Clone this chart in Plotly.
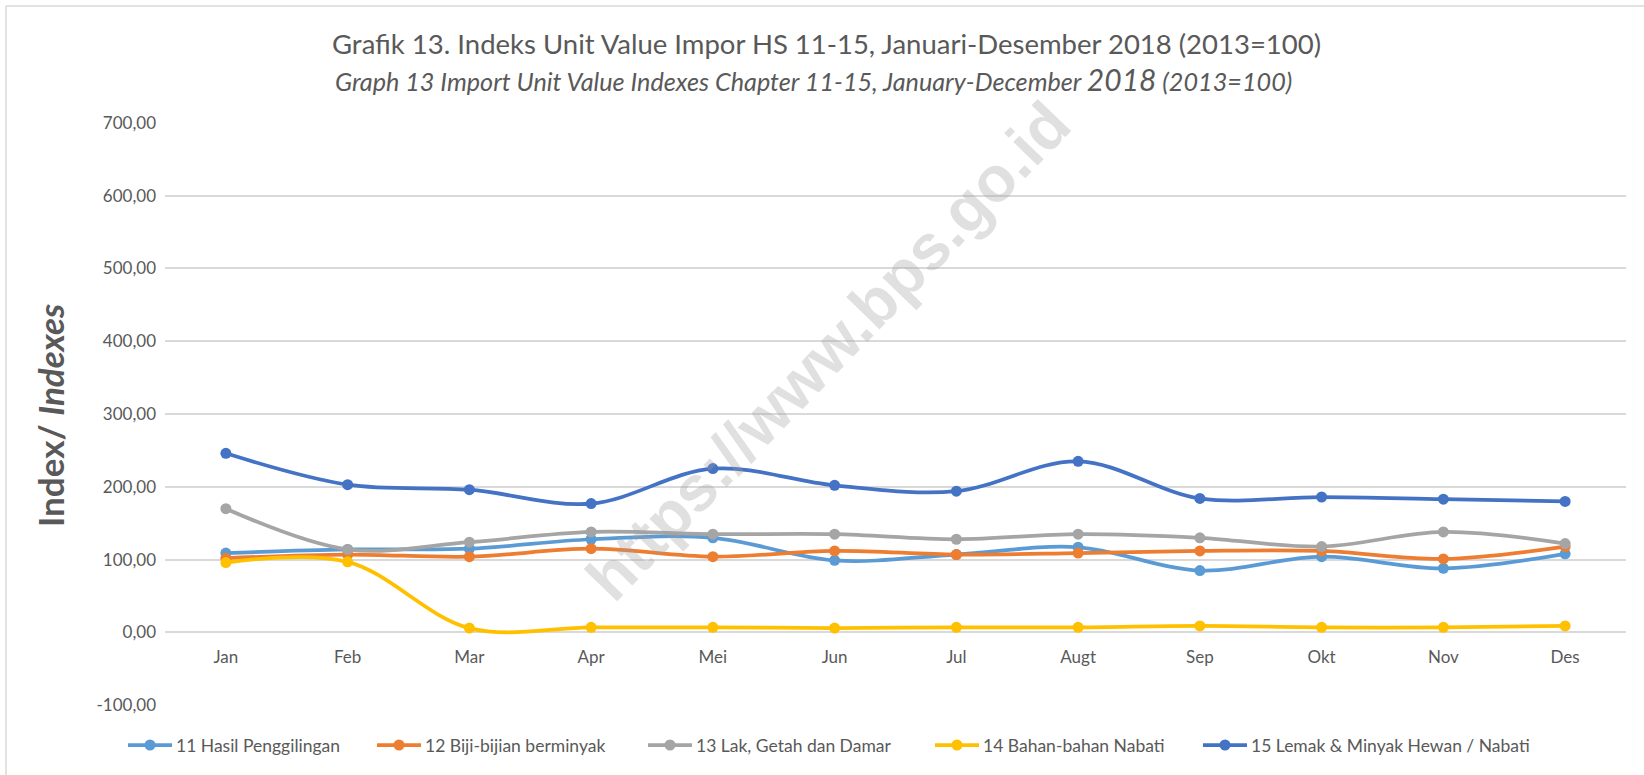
import plotly.graph_objects as go

months = ["Jan", "Feb", "Mar", "Apr", "Mei", "Jun", "Jul", "Augt", "Sep", "Okt", "Nov", "Des"]

s11_name = "11 Hasil Penggilingan"
s11 = [109, 114, 115, 128, 130, 99, 107, 117, 85, 104, 88, 108]
s12_name = "12 Biji-bijian berminyak"
s12 = [102, 107, 104, 115, 104, 112, 107, 109, 112, 112, 101, 118]
s13_name = "13 Lak, Getah dan Damar"
s13 = [170, 114, 124, 138, 135, 135, 128, 135, 130, 118, 138, 122]
s14_name = "14 Bahan-bahan Nabati"
s14 = [96, 97, 6, 7, 7, 6, 7, 7, 9, 7, 7, 9]
s15_name = "15 Lemak & Minyak Hewan / Nabati"
s15 = [246, 203, 196, 177, 225, 202, 194, 235, 184, 186, 183, 180]

y_ticks = [-100, 0, 100, 200, 300, 400, 500, 600, 700]
y_tick_labels = ["-100,00", "0,00", "100,00", "200,00", "300,00", "400,00", "500,00", "600,00", "700,00"]

colors = ["#5B9BD5", "#ED7D31", "#A5A5A5", "#FFC000", "#4472C4"]
series = list(zip([s11_name, s12_name, s13_name, s14_name, s15_name],
                  [s11, s12, s13, s14, s15], colors))

W, H = 1644, 775
L, R, T, B = 165, 18, 122, 69
PW, PH = W - L - R, H - T - B


def xp(px):
    return (px - L) / PW


def yp(py):
    return (H - B - py) / PH


fig = go.Figure()
for name, vals, col in series:
    fig.add_trace(go.Scatter(
        x=months, y=vals, name=name, mode="lines+markers",
        line=dict(color=col, width=3.75, shape="spline", smoothing=1),
        marker=dict(color=col, size=11),
        showlegend=False,
    ))

font_main = "Lato, 'Open Sans', sans-serif"
grey_text = "#595959"

fig.update_layout(
    width=W, height=H,
    margin=dict(l=L, r=R, t=T, b=B, autoexpand=False),
    paper_bgcolor="white", plot_bgcolor="white",
    font=dict(family=font_main, color=grey_text, size=17),
    showlegend=False,
    xaxis=dict(type="category", anchor="free", position=101 / 802,
               showgrid=False, zeroline=False, showline=False,
               ticks="", ticklabelstandoff=13,
               tickfont=dict(size=17, color=grey_text),
               range=[-0.5, 11.5]),
    yaxis=dict(range=[-101, 701], tickvals=y_ticks, ticktext=y_tick_labels,
               showgrid=True, gridcolor="#D9D9D9", gridwidth=1.5,
               zeroline=False, showline=False, ticks="",
               ticklabelstandoff=8,
               tickfont=dict(size=17, color=grey_text)),
)

# titles
fig.add_annotation(
    xref="paper", yref="paper", x=xp(826), y=yp(43),
    text="Grafik 13. Indeks Unit Value Impor HS 11-15, Januari-Desember 2018 (2013=100)",
    showarrow=False, font=dict(size=27.5, color=grey_text, family=font_main),
    xanchor="center", yanchor="middle",
)
fig.add_annotation(
    xref="paper", yref="paper", x=xp(813), y=yp(79),
    text="<i>Graph 13 Import Unit Value Indexes Chapter 11-15, January-December <span style='font-size:30px'>2018</span> (2013=100)</i>",
    showarrow=False, font=dict(size=25.2, color=grey_text, family=font_main),
    xanchor="center", yanchor="middle",
)
# y-axis title
fig.add_annotation(
    xref="paper", yref="paper", x=xp(50), y=yp(416),
    text="<b>Index/ <i>Indexes</i></b>", textangle=-90,
    showarrow=False, font=dict(size=35, color=grey_text, family=font_main),
    xanchor="center", yanchor="middle",
)
# watermark
fig.add_annotation(
    xref="paper", yref="paper", x=xp(828), y=yp(351),
    text="<b>https://www.bps.go.id</b>", textangle=-46,
    showarrow=False, font=dict(size=64, color="rgba(160,160,160,0.32)",
                               family="'Liberation Sans', Arial, sans-serif"),
    xanchor="center", yanchor="middle",
)

# legend (drawn manually to mimic spacing)
leg_starts = [128, 377, 648, 935, 1203]
leg_y = 745
for (name, vals, col), sx in zip(series, leg_starts):
    fig.add_shape(type="line", xref="paper", yref="paper",
                  x0=xp(sx), x1=xp(sx + 44), y0=yp(leg_y), y1=yp(leg_y),
                  line=dict(color=col, width=3.75))
    fig.add_shape(type="circle", xref="paper", yref="paper",
                  xsizemode="pixel", ysizemode="pixel",
                  xanchor=xp(sx + 22), yanchor=yp(leg_y),
                  x0=-5.5, x1=5.5, y0=-5.5, y1=5.5,
                  fillcolor=col, line=dict(width=0))
    fig.add_annotation(xref="paper", yref="paper", x=xp(sx + 46), y=yp(leg_y),
                       text=name, showarrow=False, xanchor="left", yanchor="middle",
                       font=dict(size=17.5, color=grey_text, family=font_main))

# chart border (top and left)
fig.add_shape(type="line", xref="paper", yref="paper",
              x0=xp(6), x1=xp(W), y0=yp(6), y1=yp(6),
              line=dict(color="#D9D9D9", width=1.5))
fig.add_shape(type="line", xref="paper", yref="paper",
              x0=xp(6), x1=xp(6), y0=yp(6), y1=yp(H),
              line=dict(color="#D9D9D9", width=1.5))

fig.write_html("out.html", config={"displayModeBar": False},
               post_script="document.body.style.margin='0';")
